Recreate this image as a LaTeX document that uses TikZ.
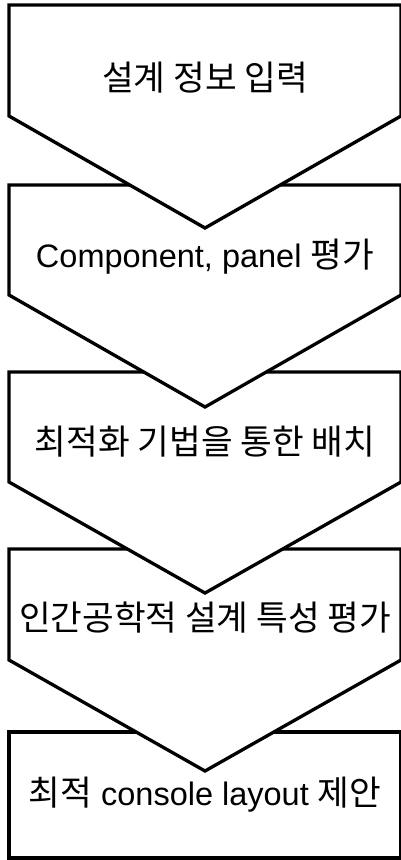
\documentclass[tikz,border=0pt]{standalone}
\usepackage{fontspec}
\setmainfont{Liberation Sans}
\newfontfamily\kr[Scale=1.06]{Noto Sans CJK KR}
\tikzset{
  chev/.style={draw=black, fill=white, line width=3.3pt, line join=miter},
  lbl/.style={font=\fontsize{32.5}{38}\selectfont, anchor=center, inner sep=0pt}
}
\begin{document}
\begin{tikzpicture}[x=1pt,y=-1pt]
\useasboundingbox[fill=white] (0,0) rectangle (401,860);
% shape 5 (rectangle)
\draw[chev] (9,732) rectangle (401,858);
\node[lbl] (t5) at (205,795) {{\kr 최적} console layout {\kr 제안}};
% shape 4
\draw[chev] (9,549) -- (401,549) -- (401,660) -- (205,771) -- (9,660) -- cycle;
\node[lbl] (t4) at (205,618) {\kr 인간공학적 설계 특성 평가};
% shape 3
\draw[chev] (9,372) -- (401,372) -- (401,482) -- (205,593) -- (9,482) -- cycle;
\node[lbl] (t3) at (205,442) {\kr 최적화 기법을 통한 배치};
% shape 2
\draw[chev] (9,185) -- (401,185) -- (401,295) -- (205,407) -- (9,295) -- cycle;
\node[lbl] (t2) at (205,257) {Component, panel {\kr 평가}};
% shape 1
\draw[chev] (9,5) -- (401,5) -- (401,116) -- (205,228) -- (9,116) -- cycle;
\node[lbl] (t1) at (205,78) {\kr 설계 정보 입력};
\end{tikzpicture}
\end{document}
